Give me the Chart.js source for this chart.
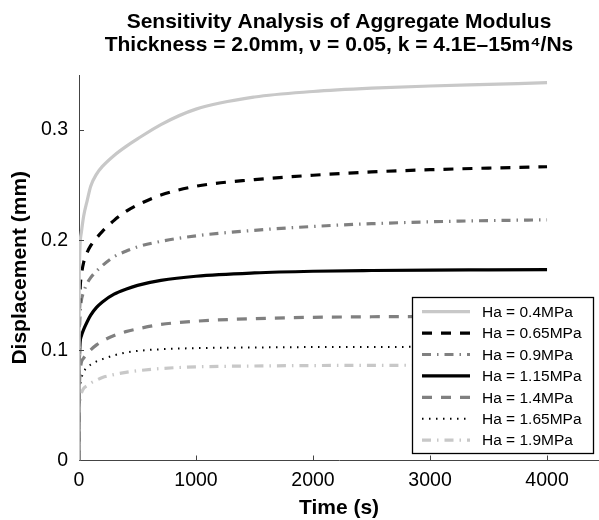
<!DOCTYPE html>
<html><head><meta charset="utf-8">
<script src="https://cdn.jsdelivr.net/npm/chart.js@4"></script>
<style>html,body{margin:0;padding:0;background:#fff}</style>
</head><body>
<canvas id="c" width="599" height="520"></canvas>
<script>
const timeS  = [0, 2, 5, 10, 20, 40, 70, 100, 150, 200, 300, 400, 500, 700, 1000, 1500, 2000, 2500, 3000, 3500, 4000];
const ha040 = [0, 0.160, 0.183, 0.198, 0.207, 0.222, 0.236, 0.249, 0.260, 0.267, 0.277, 0.285, 0.292, 0.305, 0.319, 0.330, 0.335, 0.338, 0.340, 0.3415, 0.343];
const ha065 = [0, 0.115, 0.140, 0.157, 0.168, 0.180, 0.189, 0.195, 0.202, 0.208, 0.218, 0.226, 0.232, 0.241, 0.249, 0.255, 0.259, 0.262, 0.264, 0.2655, 0.2667];
const ha090 = [0, 0.095, 0.120, 0.134, 0.145, 0.153, 0.161, 0.166, 0.172, 0.177, 0.185, 0.190, 0.194, 0.199, 0.204, 0.209, 0.2125, 0.215, 0.2167, 0.2178, 0.2185];
const ha115 = [0, 0.080, 0.097, 0.108, 0.113, 0.119, 0.126, 0.132, 0.139, 0.144, 0.151, 0.1555, 0.159, 0.1635, 0.1673, 0.1703, 0.1718, 0.1725, 0.1729, 0.1731, 0.1733];
const ha140 = [0, 0.058, 0.072, 0.081, 0.089, 0.093, 0.097, 0.1005, 0.105, 0.1085, 0.1135, 0.117, 0.1195, 0.1235, 0.1265, 0.1288, 0.130, 0.1305, 0.1308, 0.131, 0.131];
const ha165 = [0, 0.048, 0.060, 0.067, 0.074, 0.0805, 0.0845, 0.087, 0.090, 0.092, 0.0955, 0.098, 0.0995, 0.101, 0.102, 0.1026, 0.103, 0.1031, 0.1032, 0.1033, 0.1033];
const ha190 = [0, 0.040, 0.050, 0.056, 0.061, 0.0655, 0.068, 0.0703, 0.073, 0.0754, 0.078, 0.080, 0.0815, 0.0835, 0.085, 0.0858, 0.0862, 0.0864, 0.0865, 0.0866, 0.0866];
const seriesLabels = ['Ha = 0.4MPa', 'Ha = 0.65MPa', 'Ha = 0.9MPa', 'Ha = 1.15MPa', 'Ha = 1.4MPa', 'Ha = 1.65MPa', 'Ha = 1.9MPa'];
const xTicks = [0, 1000, 2000, 3000, 4000];
const yTicks = [0, 0.1, 0.2, 0.3];
const titleLines = ['Sensitivity Analysis of Aggregate Modulus', 'Thickness = 2.0mm, \u03bd = 0.05, k = 4.1E\u201315m\u2074/Ns'];

const FONT = '"Liberation Sans", Arial, Helvetica, sans-serif';
const LIGHT = '#c8c8c8', GRAY = '#808080', BLACK = '#000000';
const styles = [
  {c: LIGHT, w: 3.2, d: []},
  {c: BLACK, w: 3.2, d: [10, 9]},
  {c: GRAY,  w: 3.2, d: [9, 6, 1.5, 6]},
  {c: BLACK, w: 3.2, d: []},
  {c: GRAY,  w: 3.2, d: [10, 9]},
  {c: BLACK, w: 2, d: [1.5, 5.5]},
  {c: LIGHT, w: 3.2, d: [9, 6, 1.5, 6]}
];
const allSeries = [ha040, ha065, ha090, ha115, ha140, ha165, ha190];

const datasets = allSeries.map((vals, i) => ({
  label: seriesLabels[i],
  data: timeS.map((t, k) => ({x: t, y: vals[k]})),
  borderColor: styles[i].c,
  borderWidth: styles[i].w,
  borderDash: styles[i].d,
  pointRadius: 0,
  fill: false,
  cubicInterpolationMode: 'monotone'
}));

const innerTicks = {
  id: 'innerTicks',
  afterDraw(chart) {
    const ctx = chart.ctx, xs = chart.scales.x, ys = chart.scales.y;
    ctx.save();
    ctx.strokeStyle = '#444'; ctx.lineWidth = 1;
    ctx.beginPath();
    xTicks.forEach(v => { if (v === 0) return; const px = Math.round(xs.getPixelForValue(v)) + 0.5; ctx.moveTo(px, ys.bottom); ctx.lineTo(px, ys.bottom - 5); });
    yTicks.forEach(v => { if (v === 0) return; const py = Math.round(ys.getPixelForValue(v)) + 0.5; ctx.moveTo(xs.left, py); ctx.lineTo(xs.left + 5, py); });
    ctx.stroke();
    ctx.restore();
  }
};

const boxLegend = {
  id: 'boxLegend',
  afterDatasetsDraw(chart) {
    const ctx = chart.ctx;
    const bx = 412.5, by = 297.5, bw = 181, bh = 156;
    ctx.save();
    ctx.fillStyle = '#fff';
    ctx.fillRect(bx, by, bw, bh);
    ctx.strokeStyle = '#000'; ctx.lineWidth = 1.3;
    ctx.strokeRect(bx, by, bw, bh);
    ctx.font = '15.5px ' + FONT;
    ctx.textBaseline = 'middle';
    ctx.fillStyle = '#000';
    chart.data.datasets.forEach((ds, i) => {
      const cy = 311.7 + i * 21.4;
      ctx.beginPath();
      ctx.strokeStyle = ds.borderColor;
      ctx.lineWidth = ds.borderWidth;
      ctx.setLineDash(ds.borderDash);
      ctx.moveTo(422, cy); ctx.lineTo(470, cy);
      ctx.stroke();
      ctx.setLineDash([]);
      ctx.fillText(ds.label, 482, cy + 1);
    });
    ctx.restore();
  }
};

new Chart(document.getElementById('c'), {
  type: 'line',
  data: {datasets},
  plugins: [innerTicks, boxLegend],
  options: {
    responsive: false,
    animation: false,
    devicePixelRatio: 1,
    layout: {padding: 0},
    plugins: {
      legend: {display: false},
      tooltip: {enabled: false},
      title: {
        display: true, fullSize: false, text: titleLines, color: '#000',
        font: {family: FONT, size: 21, weight: 'bold', lineHeight: 1.1},
        padding: {top: 11, bottom: 17.8}
      }
    },
    scales: {
      x: {
        type: 'linear', min: 0, max: 4444,
        afterBuildTicks: s => { s.ticks = xTicks.map(v => ({value: v})); },
        afterFit: s => { s.height = 59.5; },
        grid: {display: false, drawTicks: false},
        border: {display: true, color: '#444', width: 1},
        ticks: {font: {family: FONT, size: 19.5}, color: '#000', padding: 8, maxRotation: 0, autoSkip: false, callback: v => String(v)},
        title: {display: true, text: 'Time (s)', color: '#000', font: {family: FONT, size: 21, weight: 'bold', lineHeight: 1}, padding: {top: 0, bottom: 1}}
      },
      y: {
        type: 'linear', min: 0, max: 0.35,
        afterBuildTicks: s => { s.ticks = yTicks.map(v => ({value: v})); },
        afterFit: s => { s.width = 79; },
        grid: {display: false, drawTicks: false},
        border: {display: true, color: '#444', width: 1},
        ticks: {font: {family: FONT, size: 19.5}, color: '#000', padding: 11, autoSkip: false, callback: v => String(v)},
        title: {display: true, text: 'Displacement (mm)', color: '#000', font: {family: FONT, size: 21, weight: 'bold', lineHeight: 1.2}, padding: {top: 8, bottom: 0}}
      }
    }
  }
});
</script>
</body></html>
